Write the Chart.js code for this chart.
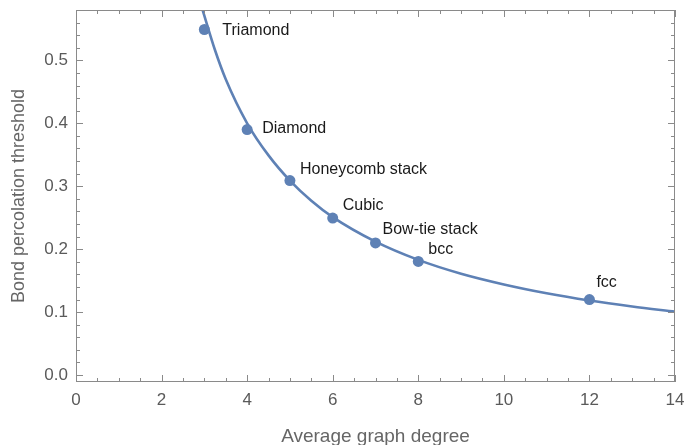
<!DOCTYPE html>
<html>
<head>
<meta charset="utf-8">
<script src="https://cdn.jsdelivr.net/npm/chart.js@4/dist/chart.umd.min.js"></script>
<style>
  html, body { margin: 0; padding: 0; background: #fff; }
  #wrap { width: 685px; height: 445px; }
</style>
</head>
<body>
<div id="wrap"><canvas id="percChart"></canvas></div>
<script>
// lattices and their bond percolation thresholds
const lattices = ['Triamond', 'Diamond', 'Honeycomb stack', 'Cubic', 'Bow-tie stack', 'bcc', 'fcc'];
const degrees = [3, 4, 5, 6, 7, 8, 12];
const thresholds = [0.549, 0.390, 0.309, 0.2495, 0.210, 0.1805, 0.120];

// fitted curve
const curveX = [2.95, 3.25, 3.5, 4, 4.5, 5, 5.5, 6, 7, 8, 9, 10, 11, 12, 13, 14];
const curveY = [0.582, 0.516, 0.470, 0.400, 0.349, 0.309, 0.277, 0.251, 0.212, 0.183, 0.161, 0.144, 0.130, 0.1185, 0.109, 0.1008];

const xTicks = [0, 2, 4, 6, 8, 10, 12, 14];
const yTicks = [0, 0.1, 0.2, 0.3, 0.4, 0.5];

// label offsets in px (dx, dy) from each point
const labelOffsets = [[18, 1], [15, -1], [10, -11], [10, -12], [7, -13], [10, -12], [7, -17]];

const BLUE = '#5E81B5';
const FONT = '"Liberation Sans", Arial, sans-serif';

const frameTicks = {
    id: 'frameTicks',
    afterDraw(chart) {
        const ctx = chart.ctx;
        const a = chart.chartArea;
        const xs = chart.scales.x, ys = chart.scales.y;
        ctx.save();
        ctx.strokeStyle = '#8a8a8a';
        ctx.lineWidth = 1;
        ctx.strokeRect(a.left + 0.5, a.top + 0.5, a.right - a.left - 1, a.bottom - a.top - 1);
        ctx.beginPath();
        for (let v = 0; v <= 14.001; v += 0.5) {
            const px = Math.round(xs.getPixelForValue(v)) + 0.5;
            const len = Math.abs(v % 2) < 1e-6 ? 7 : 4;
            ctx.moveTo(px, a.bottom); ctx.lineTo(px, a.bottom - len);
            ctx.moveTo(px, a.top); ctx.lineTo(px, a.top + len);
        }
        for (let i = 0; i <= 29; i++) {
            const v = i * 0.02;
            const py = Math.round(ys.getPixelForValue(v)) + 0.5;
            const len = i % 5 === 0 ? 7 : 4;
            ctx.moveTo(a.left, py); ctx.lineTo(a.left + len, py);
            ctx.moveTo(a.right, py); ctx.lineTo(a.right - len, py);
        }
        ctx.stroke();

        // point labels
        ctx.fillStyle = '#1a1a1a';
        ctx.font = '16px ' + FONT;
        ctx.textBaseline = 'middle';
        ctx.textAlign = 'left';
        lattices.forEach((name, i) => {
            const px = xs.getPixelForValue(degrees[i]);
            const py = ys.getPixelForValue(thresholds[i]);
            ctx.fillText(name, px + labelOffsets[i][0], py + labelOffsets[i][1]);
        });
        ctx.restore();
    }
};

const chartContext = document.getElementById('percChart').getContext('2d');
const percChart = new Chart(chartContext, {
    type: 'scatter',
    data: {
        datasets: [
            {
                label: 'points',
                data: degrees.map((d, i) => ({ x: d, y: thresholds[i] })),
                backgroundColor: BLUE,
                borderColor: BLUE,
                pointRadius: 5.5,
                pointBorderWidth: 0,
                order: 0
            },
            {
                type: 'line',
                label: 'fit',
                data: curveX.map((x, i) => ({ x: x, y: curveY[i] })),
                borderColor: BLUE,
                borderWidth: 2.6,
                pointRadius: 0,
                cubicInterpolationMode: 'monotone',
                fill: false,
                clip: 0,
                order: 1
            }
        ]
    },
    options: {
        responsive: true,
        maintainAspectRatio: false,
        animation: false,
        layout: { padding: { top: 10, right: 10, bottom: -3, left: 0 } },
        plugins: {
            legend: { display: false },
            tooltip: { enabled: false }
        },
        scales: {
            x: {
                type: 'linear',
                min: 0,
                max: 14,
                afterBuildTicks: (s) => { s.ticks = xTicks.map(v => ({ value: v })); },
                afterFit: (s) => { s.height = 66; s.paddingLeft = 0; s.paddingRight = 0; },
                grid: { display: false, drawTicks: false },
                border: { display: false },
                ticks: {
                    padding: 8,
                    color: '#5a5a5a',
                    font: { family: FONT, size: 17 },
                    maxRotation: 0
                },
                title: {
                    display: true,
                    text: 'Average graph degree',
                    color: '#666',
                    font: { family: FONT, size: 19 },
                    padding: { top: 0, bottom: 0 }
                }
            },
            y: {
                type: 'linear',
                min: -0.011,
                max: 0.58,
                afterBuildTicks: (s) => { s.ticks = yTicks.map(v => ({ value: v })); },
                afterFit: (s) => { s.width = 76; s.paddingTop = 0; s.paddingBottom = 0; },
                grid: { display: false, drawTicks: false },
                border: { display: false },
                ticks: {
                    padding: 8,
                    color: '#5a5a5a',
                    font: { family: FONT, size: 17 },
                    callback: (v) => Number(v).toFixed(1)
                },
                title: {
                    display: true,
                    text: 'Bond percolation threshold',
                    color: '#666',
                    font: { family: FONT, size: 18 },
                    padding: { top: 8, bottom: 0 }
                }
            }
        }
    },
    plugins: [frameTicks]
});
</script>
</body>
</html>
